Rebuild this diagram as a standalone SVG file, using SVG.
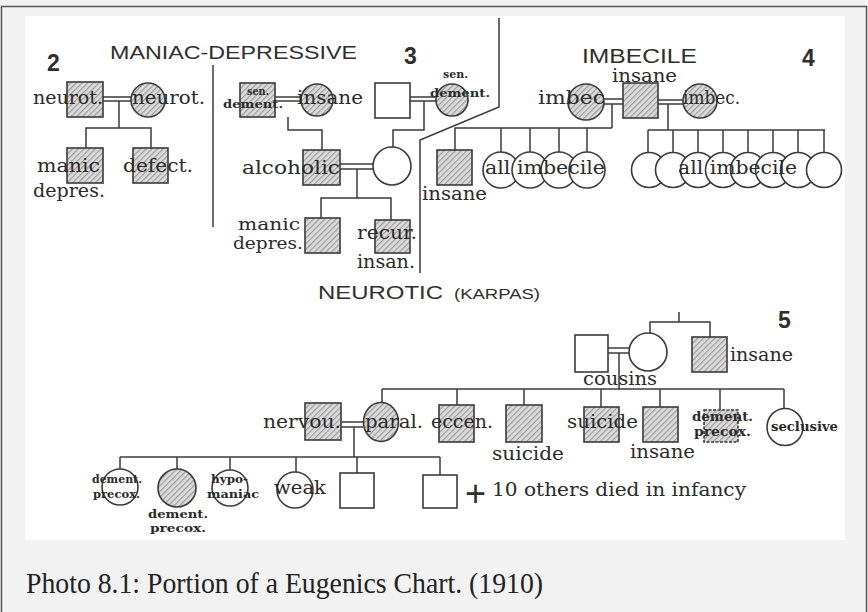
<svg xmlns="http://www.w3.org/2000/svg" width="868" height="612" viewBox="0 0 868 612">
<defs>
<pattern id="h" width="4" height="4" patternUnits="userSpaceOnUse" patternTransform="rotate(45)">
<rect width="4" height="4" fill="#dcdcdc"/>
<line x1="0.6" y1="0" x2="0.6" y2="4" stroke="#9a9a9a" stroke-width="1.2"/>
</pattern>
</defs>
<style>
.s{stroke:#3a3a3a;stroke-width:1.6;fill:#fff}
.f{stroke:#3a3a3a;stroke-width:1.6;fill:url(#h)}
.c{stroke:#3a3a3a;stroke-width:1.5;fill:none}
.t{font-family:"DejaVu Serif","Liberation Serif",serif;font-size:18px;fill:#2a2a2a}
.m{font-family:"DejaVu Serif","Liberation Serif",serif;font-size:11.5px;font-weight:bold;fill:#2a2a2a}
.h{font-family:"Liberation Sans",Arial,sans-serif;font-size:19px;fill:#2e2e2e}
.n{font-family:"Liberation Sans",Arial,sans-serif;font-size:23px;font-weight:bold;fill:#2e2e2e}
</style>
<rect x="0" y="0" width="868" height="612" fill="#f2f2f2"/>
<rect x="1.5" y="6.5" width="865" height="610" fill="none" stroke="#555" stroke-width="1.5"/>
<rect x="25" y="16" width="820" height="524" fill="#fff"/>

<g id="headings">
<text class="n" x="47" y="71">2</text>
<text class="h" x="110" y="59" textLength="247" lengthAdjust="spacingAndGlyphs">MANIAC-DEPRESSIVE</text>
<text class="n" x="404" y="64">3</text>
<text class="h" x="582" y="63" style="font-size:20px" textLength="115" lengthAdjust="spacingAndGlyphs">IMBECILE</text>
<text class="n" x="802" y="66">4</text>
<text class="h" x="318" y="299"><tspan x="318" textLength="125" lengthAdjust="spacingAndGlyphs">NEUROTIC</tspan><tspan x="454" style="font-size:14px" textLength="86" lengthAdjust="spacingAndGlyphs">(KARPAS)</tspan></text>
<text class="n" x="778" y="328">5</text>
</g>

<g id="connectors">
<line class="c" x1="213" y1="65" x2="213" y2="227"/>
<polyline class="c" points="499,18 499,107 420,140 420,273"/>
<line class="c" x1="103" y1="97" x2="131" y2="97"/><line class="c" x1="103" y1="101" x2="131" y2="101"/>
<polyline class="c" points="119,101 119,128"/>
<polyline class="c" points="86,148 86,128 151,128 151,148"/>
<line class="c" x1="275" y1="97" x2="301" y2="97"/><line class="c" x1="275" y1="101" x2="301" y2="101"/>
<polyline class="c" points="288,117 288,130 322,130 322,150"/>
<line class="c" x1="410" y1="97" x2="436" y2="97"/><line class="c" x1="410" y1="101" x2="436" y2="101"/>
<polyline class="c" points="424,101 424,130 393,130 393,147"/>
<line class="c" x1="340" y1="164" x2="373" y2="164"/><line class="c" x1="340" y1="169" x2="373" y2="169"/>
<polyline class="c" points="357,169 357,198"/>
<polyline class="c" points="321,218 321,198 391,198 391,220"/>
<line class="c" x1="604" y1="99" x2="623" y2="99"/><line class="c" x1="604" y1="104" x2="623" y2="104"/>
<line class="c" x1="612" y1="104" x2="612" y2="128"/>
<line class="c" x1="658" y1="100" x2="683" y2="100"/><line class="c" x1="658" y1="104" x2="683" y2="104"/>
<line class="c" x1="668" y1="104" x2="668" y2="130"/>
<polyline class="c" points="455,150 455,128 612,128"/>
<line class="c" x1="501" y1="128" x2="501" y2="152"/>
<line class="c" x1="530" y1="128" x2="530" y2="152"/>
<line class="c" x1="559" y1="128" x2="559" y2="152"/>
<line class="c" x1="587" y1="128" x2="587" y2="152"/>
<line class="c" x1="648" y1="130" x2="825" y2="130"/>
<line class="c" x1="648" y1="130" x2="648" y2="152"/>
<line class="c" x1="673" y1="130" x2="673" y2="152"/>
<line class="c" x1="698" y1="130" x2="698" y2="152"/>
<line class="c" x1="723" y1="130" x2="723" y2="152"/>
<line class="c" x1="748" y1="130" x2="748" y2="152"/>
<line class="c" x1="773" y1="130" x2="773" y2="152"/>
<line class="c" x1="798" y1="130" x2="798" y2="152"/>
<line class="c" x1="824" y1="130" x2="824" y2="152"/>
<line class="c" x1="679" y1="312" x2="679" y2="322"/>
<polyline class="c" points="650,333 650,322 710,322 710,337"/>
<line class="c" x1="608" y1="348" x2="630" y2="348"/><line class="c" x1="608" y1="353" x2="630" y2="353"/>
<line class="c" x1="619" y1="353" x2="619" y2="389"/>
<line class="c" x1="382" y1="389" x2="784" y2="389"/>
<line class="c" x1="382" y1="389" x2="382" y2="403"/>
<line class="c" x1="457" y1="389" x2="457" y2="405"/>
<line class="c" x1="524" y1="389" x2="524" y2="405"/>
<line class="c" x1="601" y1="389" x2="601" y2="407"/>
<line class="c" x1="660" y1="389" x2="660" y2="407"/>
<line class="c" x1="720" y1="389" x2="720" y2="410"/>
<line class="c" x1="784" y1="389" x2="784" y2="409"/>
<line class="c" x1="341" y1="422" x2="363" y2="422"/><line class="c" x1="341" y1="427" x2="363" y2="427"/>
<line class="c" x1="354" y1="427" x2="354" y2="457"/>
<line class="c" x1="120" y1="457" x2="440" y2="457"/>
<line class="c" x1="120" y1="457" x2="120" y2="469"/>
<line class="c" x1="177" y1="457" x2="177" y2="469"/>
<line class="c" x1="230" y1="457" x2="230" y2="470"/>
<line class="c" x1="296" y1="457" x2="296" y2="472"/>
<line class="c" x1="357" y1="457" x2="357" y2="473"/>
<line class="c" x1="440" y1="457" x2="440" y2="475"/>
</g>

<g id="n2-father"><rect class="f" x="67" y="82" width="36" height="35"/><text class="t" x="33" y="104" textLength="70" lengthAdjust="spacingAndGlyphs">neurot.</text></g>
<g id="n2-mother"><circle class="f" cx="148" cy="100" r="17"/><text class="t" x="132" y="104" textLength="73" lengthAdjust="spacingAndGlyphs">neurot.</text></g>
<g id="n2-son1"><rect class="f" x="67" y="148" width="36" height="35"/><text class="t" x="37" y="172" textLength="63" lengthAdjust="spacingAndGlyphs">manic</text><text class="t" x="33" y="197" textLength="72" lengthAdjust="spacingAndGlyphs">depres.</text></g>
<g id="n2-son2"><rect class="f" x="133" y="148" width="35" height="35"/><text class="t" x="123" y="172" textLength="70" lengthAdjust="spacingAndGlyphs">defect.</text></g>

<g id="n3-gf1"><rect class="f" x="240" y="83" width="35" height="34"/><text class="m" x="247" y="95" textLength="22" lengthAdjust="spacingAndGlyphs">sen.</text><text class="m" x="223" y="108" textLength="60" lengthAdjust="spacingAndGlyphs">dement.</text></g>
<g id="n3-gm1"><circle class="f" cx="317" cy="100" r="16"/><text class="t" x="297" y="104" textLength="66" lengthAdjust="spacingAndGlyphs">insane</text></g>
<g id="n3-gf2"><rect class="s" x="375" y="83" width="35" height="35"/></g>
<g id="n3-gm2"><circle class="f" cx="452" cy="100" r="16"/><text class="m" x="443" y="78" textLength="25" lengthAdjust="spacingAndGlyphs">sen.</text><text class="m" x="430" y="97" textLength="60" lengthAdjust="spacingAndGlyphs">dement.</text></g>
<g id="n3-father"><rect class="f" x="303" y="150" width="37" height="35"/><text class="t" x="242" y="174" textLength="98" lengthAdjust="spacingAndGlyphs">alcoholic</text></g>
<g id="n3-mother"><circle class="s" cx="392" cy="166" r="19"/></g>
<g id="n3-son1"><rect class="f" x="305" y="218" width="35" height="35"/><text class="t" x="238" y="230" style="font-size:16.5px" textLength="62" lengthAdjust="spacingAndGlyphs">manic</text><text class="t" x="233" y="249" style="font-size:16.5px" textLength="70" lengthAdjust="spacingAndGlyphs">depres.</text></g>
<g id="n3-son2"><rect class="f" x="375" y="220" width="35" height="33"/><text class="t" x="357" y="239" textLength="60" lengthAdjust="spacingAndGlyphs">recur.</text><text class="t" x="357" y="268" textLength="58" lengthAdjust="spacingAndGlyphs">insan.</text></g>

<g id="n4-wife1"><circle class="f" cx="586" cy="102" r="18"/><text class="t" x="538" y="104" textLength="67" lengthAdjust="spacingAndGlyphs">imbec</text></g>
<g id="n4-father"><rect class="f" x="623" y="83" width="35" height="35"/><text class="t" x="612" y="82" textLength="65" lengthAdjust="spacingAndGlyphs">insane</text></g>
<g id="n4-wife2"><circle class="f" cx="700" cy="101" r="17"/><text class="t" x="683" y="104" textLength="57" lengthAdjust="spacingAndGlyphs">imbec.</text></g>
<g id="n4-son"><rect class="f" x="437" y="150" width="35" height="35"/><text class="t" x="422" y="200" textLength="65" lengthAdjust="spacingAndGlyphs">insane</text></g>
<g id="n4-children1"><circle class="s" cx="501" cy="170" r="18"/><circle class="s" cx="530" cy="170" r="18"/><circle class="s" cx="559" cy="170" r="18"/><circle class="s" cx="587" cy="170" r="18"/><text class="t" x="485" y="174" textLength="120" lengthAdjust="spacingAndGlyphs">all imbecile</text></g>
<g id="n4-children2"><circle class="s" cx="649" cy="170" r="17.5"/><circle class="s" cx="673" cy="170" r="17.5"/><circle class="s" cx="698" cy="170" r="17.5"/><circle class="s" cx="723" cy="170" r="17.5"/><circle class="s" cx="748" cy="170" r="17.5"/><circle class="s" cx="773" cy="170" r="17.5"/><circle class="s" cx="798" cy="170" r="17.5"/><circle class="s" cx="824" cy="170" r="17.5"/><text class="t" x="678" y="174" textLength="119" lengthAdjust="spacingAndGlyphs">all imbecile</text></g>

<g id="n5-gf"><rect class="s" x="575" y="335" width="33" height="37"/></g>
<g id="n5-gm"><circle class="s" cx="648" cy="352" r="19"/><text class="t" x="583" y="385" textLength="74" lengthAdjust="spacingAndGlyphs">cousins</text></g>
<g id="n5-uncle"><rect class="f" x="692" y="337" width="35" height="35"/><text class="t" x="730" y="361" textLength="63" lengthAdjust="spacingAndGlyphs">insane</text></g>
<g id="n5-father"><rect class="f" x="305" y="403" width="36" height="37"/><text class="t" x="263" y="428" textLength="78" lengthAdjust="spacingAndGlyphs">nervou.</text></g>
<g id="n5-mother"><ellipse class="f" cx="381" cy="422" rx="17.5" ry="19.5"/><text class="t" x="365" y="428" textLength="58" lengthAdjust="spacingAndGlyphs">paral.</text></g>
<g id="n5-s2"><rect class="f" x="439" y="405" width="35" height="37"/><text class="t" x="431" y="428" textLength="62" lengthAdjust="spacingAndGlyphs">eccen.</text></g>
<g id="n5-s3"><rect class="f" x="506" y="405" width="36" height="37"/><text class="t" x="492" y="460" textLength="72" lengthAdjust="spacingAndGlyphs">suicide</text></g>
<g id="n5-s4"><rect class="f" x="584" y="407" width="35" height="35"/><text class="t" x="567" y="428" textLength="71" lengthAdjust="spacingAndGlyphs">suicide</text></g>
<g id="n5-s5"><rect class="f" x="643" y="407" width="35" height="35"/><text class="t" x="630" y="458" textLength="65" lengthAdjust="spacingAndGlyphs">insane</text></g>
<g id="n5-s6"><rect class="f" x="704" y="410" width="34" height="32" stroke-dasharray="3 1.5"/><text class="m" x="692" y="421" style="font-size:12.5px" textLength="61" lengthAdjust="spacingAndGlyphs">dement.</text><text class="m" x="694" y="436" style="font-size:12.5px" textLength="57" lengthAdjust="spacingAndGlyphs">precox.</text></g>
<g id="n5-s7"><ellipse class="s" cx="785" cy="427" rx="18" ry="18.5"/><text class="m" x="771" y="431" style="font-size:12.5px" textLength="67" lengthAdjust="spacingAndGlyphs">seclusive</text></g>
<g id="n5-c1"><circle class="s" cx="120" cy="487" r="18"/><text class="m" x="92" y="483" textLength="50" lengthAdjust="spacingAndGlyphs">dement.</text><text class="m" x="93" y="498" textLength="47" lengthAdjust="spacingAndGlyphs">precox.</text></g>
<g id="n5-c2"><circle class="f" cx="177" cy="488" r="19"/><text class="m" x="148" y="518" textLength="60" lengthAdjust="spacingAndGlyphs">dement.</text><text class="m" x="150" y="532" textLength="56" lengthAdjust="spacingAndGlyphs">precox.</text></g>
<g id="n5-c3"><circle class="s" cx="230" cy="488" r="18"/><text class="m" x="211" y="483" textLength="37" lengthAdjust="spacingAndGlyphs">hypo-</text><text class="m" x="207" y="498" textLength="52" lengthAdjust="spacingAndGlyphs">maniac</text></g>
<g id="n5-c4"><circle class="s" cx="295" cy="490" r="18"/><text class="t" x="274" y="494" textLength="52" lengthAdjust="spacingAndGlyphs">weak</text></g>
<g id="n5-c5"><rect class="s" x="340" y="473" width="34" height="35"/></g>
<g id="n5-c6"><rect class="s" x="423" y="475" width="34" height="33"/></g>
<g id="n5-others"><text class="h" x="465" y="506" style="font-size:36px">+</text><text class="t" x="492" y="496" textLength="254" lengthAdjust="spacingAndGlyphs">10 others died in infancy</text></g>

<text x="26" y="593" font-family="'Liberation Serif',serif" font-size="29" fill="#222" textLength="517" lengthAdjust="spacingAndGlyphs">Photo 8.1: Portion of a Eugenics Chart. (1910)</text>
</svg>
